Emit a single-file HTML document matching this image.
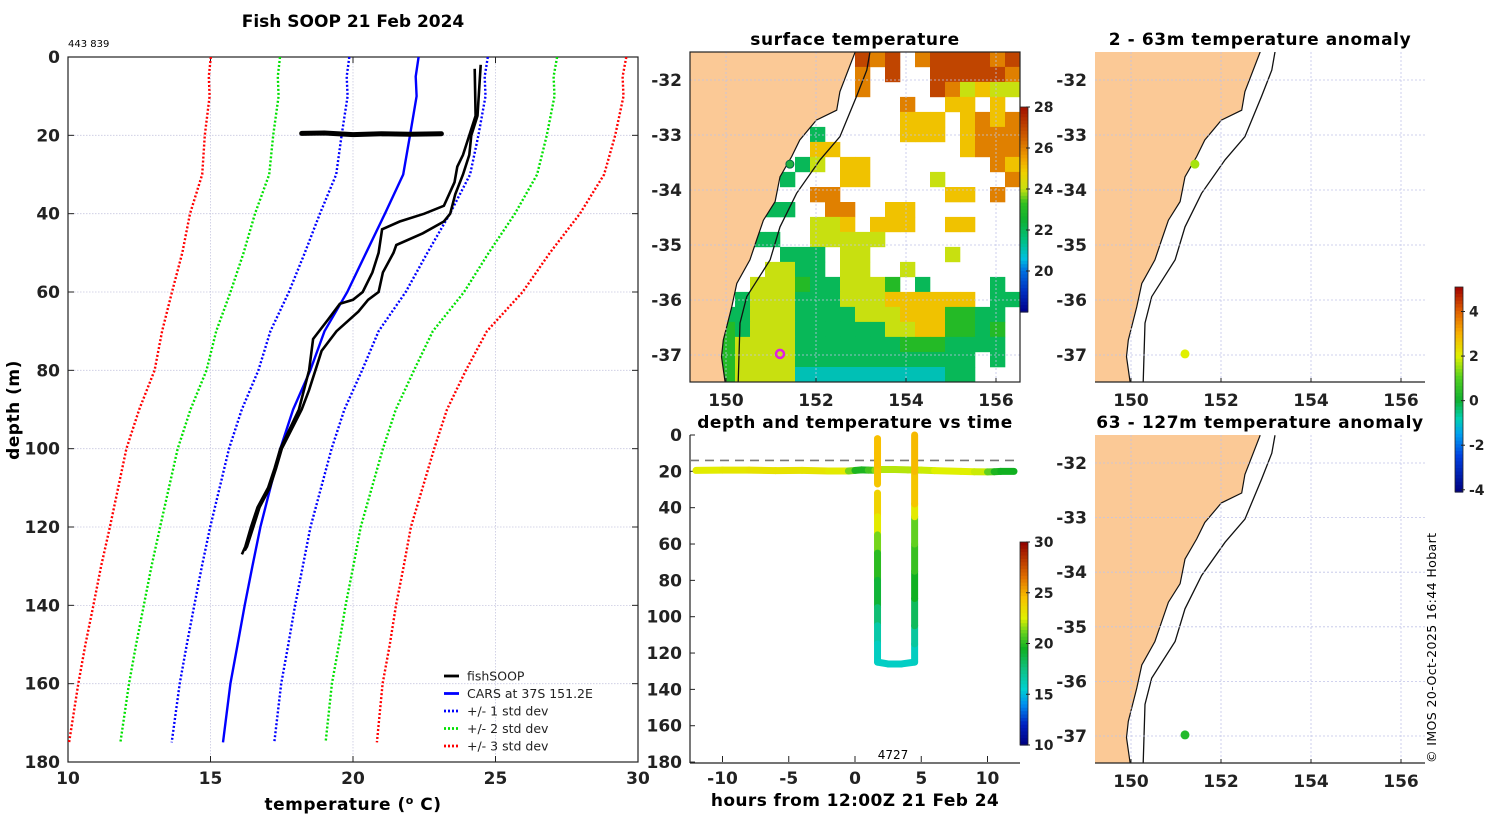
<!DOCTYPE html>
<html><head><meta charset="utf-8"><style>
html,body{margin:0;padding:0;background:#fff;}
svg{display:block;font-family:"DejaVu Sans","Liberation Sans",sans-serif;}
</style></head><body>
<svg id="fig" width="1500" height="820" viewBox="0 0 1500 820" xmlns="http://www.w3.org/2000/svg">
<defs>
<clipPath id="clipSst"><rect x="690" y="52" width="330" height="330"/></clipPath>
<clipPath id="clipA1"><rect x="1095" y="52" width="330" height="330"/></clipPath>
<clipPath id="clipA2"><rect x="1095" y="435" width="330" height="328"/></clipPath>
<clipPath id="clipProf"><rect x="68" y="57" width="570" height="705"/></clipPath>
</defs>
<text x="353" y="27" text-anchor="middle" font-size="17" font-weight="bold">Fish SOOP 21 Feb 2024</text>
<text x="68" y="47" font-size="10">443 839</text>
<text x="855" y="45" text-anchor="middle" font-size="17" font-weight="bold" letter-spacing="0.6">surface temperature</text>
<text x="1260" y="45" text-anchor="middle" font-size="17" font-weight="bold" letter-spacing="0.6">2 - 63m temperature anomaly</text>
<text x="855" y="428" text-anchor="middle" font-size="17" font-weight="bold" letter-spacing="0.5">depth and temperature vs time</text>
<text x="1260" y="428" text-anchor="middle" font-size="17" font-weight="bold" letter-spacing="0.6">63 - 127m temperature anomaly</text>
<text x="353" y="810" text-anchor="middle" font-size="17" font-weight="bold" letter-spacing="0.5">temperature (<tspan baseline-shift="super" font-size="11">o</tspan> C)</text>
<text transform="translate(19,410) rotate(-90)" text-anchor="middle" font-size="17" font-weight="bold" letter-spacing="0.5">depth (m)</text>
<text x="855" y="806" text-anchor="middle" font-size="17" font-weight="bold" letter-spacing="0.4">hours from 12:00Z 21 Feb 24</text>
<text x="893" y="759" text-anchor="middle" font-size="12">4727</text>
<text transform="translate(1436,763) rotate(-90)" font-size="12.5" letter-spacing="0.4">© IMOS 20-Oct-2025 16:44 Hobart</text>
<g id="g"></g>
</svg>
<script>
// ---------- Profile data ----------
var carsDepth = [0,5,10,20,30,40,50,60,70,80,90,100,120,130,140,150,160,175];
var carsMean  = [22.3,22.2,22.23,22.0,21.76,21.12,20.46,19.8,19.0,18.5,17.9,17.45,16.75,16.47,16.2,15.95,15.7,15.44];
var carsStd   = [2.43,2.42,2.42,2.4,2.35,2.28,2.15,2.05,1.9,1.82,1.8,1.8,1.76,1.77,1.77,1.78,1.78,1.8];
var castADepth = [3,15,25,28,32,38,40,42,44,50,55,60,62,63,67,72,80,90,100,105,110,115,120,125,127];
var castATemp  = [24.27,24.3,23.86,23.66,23.56,23.19,22.5,21.64,21.02,20.9,20.68,20.34,20.0,19.54,19.13,18.6,18.46,18.1,17.45,17.25,17.02,16.65,16.42,16.22,16.1];
var castBDepth = [2,15,20,25,30,35,40,42,45,48,50,55,60,62,65,70,75,80,85,90,100,105,110,115,120,125,126];
var castBTemp  = [24.48,24.37,24.15,24.08,23.86,23.59,23.41,23.19,22.45,21.52,21.42,21.05,20.9,20.53,20.19,19.42,18.9,18.68,18.46,18.2,17.5,17.3,17.08,16.72,16.5,16.28,16.2];
var towTempsProfile = [18.2,19.0,20.0,21.0,22.0,23.1];
var towDepthProfile = [19.5,19.4,19.8,19.6,19.7,19.6];
var profXTicks = [10,15,20,25,30];
var profYTicks = [0,20,40,60,80,100,120,140,160,180];

// ---------- Time panel data ----------
var towHours = [-12,-10,-8,-6,-4,-2,-0.5,0,0.5,1,1.5,2,3,4,5,6,7,8,9,10,10.5,11,12];
var towDepth = [19.5,19.3,19.3,19.6,19.5,19.8,19.8,19.5,19.2,19.3,19.4,19.0,19.0,19.2,19.3,19.6,19.8,20.0,20.2,20.3,20.2,20.0,20.0];
var towTemp  = [22.5,22.8,23.0,23.2,23.0,23.0,22.5,20.0,19.5,20.0,21.0,22.0,22.0,22.0,22.0,22.5,22.5,22.5,22.5,22.0,20.0,19.5,19.5];
var castHours = [1.7,1.7,1.7,1.7,null,1.7,1.7,1.7,1.7,1.7,1.7,1.7,1.7,1.7,2.5,3.5,4.5,4.5,4.5,4.5,4.5,4.5,4.5,4.5,4.5,4.5];
var castDepth = [2,10,20,27,null,32,45,55,65,80,95,105,115,125,126,126,125,115,105,90,75,60,45,38,20,0];
var castTemp  = [24.5,24.5,24.5,24.0,null,24.0,23.5,22.0,20.5,19.5,18.5,17.0,16.0,15.8,15.8,15.8,15.8,16.0,17.5,19.0,20.0,20.5,21.5,24.0,24.5,24.8];
var timeXTicks = [-10,-5,0,5,10];
var timeYTicks = [0,20,40,60,80,100,120,140,160,180];
var mixedLayerDepth = [14];

// ---------- Map data ----------
var lonTicks = [150,152,154,156];
var latTicks = [-32,-33,-34,-35,-36,-37];
var sstTicks = [20,22,24,26,28];
var tempTicks = [10,15,20,25,30];
var anomTicks = [-4,-2,0,2,4];
var coastLon = [152.87,152.53,152.46,152.01,151.64,151.46,151.2,151.09,150.83,150.68,150.53,150.24,150.13,149.94,149.9,149.98];
var coastLat = [-31.49,-32.21,-32.55,-32.73,-33.09,-33.39,-33.76,-34.21,-34.55,-34.91,-35.27,-35.7,-36.12,-36.73,-37.03,-37.49];
var isoLon = [153.2,153.13,152.9,152.53,152.09,151.57,151.2,150.98,150.46,150.31,150.27];
var isoLat = [-31.49,-31.82,-32.3,-33.03,-33.45,-34.06,-34.67,-35.27,-35.94,-36.42,-37.49];
// SST grid: '.'=no data, a..h = 20..27 degC
var sstRows = [
"...........hgh.ghhhhgh",
"...........g.h..hhhhhg",
"...........g....hgefee",
"..............g..ff.f.",
"..............fff.fgfg",
"........c.....fff.fggg",
"........ff........fggg",
".......ce.ff........gf",
"......c...ff....e....g",
"........gg.......ff.g.",
".....cc..gg..ff.......",
"........eef.fff..ff...",
"....cc..eeeee.........",
"......ccc.ee.....e....",
".....eecc.ee..e.......",
"....eeedcceeed.c....c.",
"...ceeeccceeeffffff.cc",
"..cceeecccceeefffddcc.",
"..dceeecccccceeffddcd.",
"..deeeecccccccdddcccc.",
"..deeeecccccccccccc.c.",
"..deeeebbbbbbbbbbcc..."
];
var sstGridLon0 = 149.2, sstGridLat0 = -31.49;
var obsLon = [151.42,151.2];
var obsLat = [-33.53,-36.98];
var anomTopLon = [151.42,151.2], anomTopLat = [-33.53,-36.98], anomTopVal = [1.6,2.0];
var anomBotLon = [151.2], anomBotLat = [-36.98], anomBotVal = [0.3];

// ---------- helpers ----------
var NS = "http://www.w3.org/2000/svg";
var root = document.getElementById('g');
function mk(tag, attrs, parent){ var e=document.createElementNS(NS,tag); for(var k in attrs) e.setAttribute(k,attrs[k]); (parent||root).appendChild(e); return e; }
function hex(c){return [parseInt(c.substr(1,2),16),parseInt(c.substr(3,2),16),parseInt(c.substr(5,2),16)];}
function cmap(stops,v){
  if(v<=stops[0][0]) return stops[0][1];
  for(var i=1;i<stops.length;i++){ if(v<=stops[i][0]){ var a=stops[i-1],b=stops[i],t=(v-a[0])/(b[0]-a[0]); var ca=hex(a[1]),cb=hex(b[1]); return 'rgb('+Math.round(ca[0]+(cb[0]-ca[0])*t)+','+Math.round(ca[1]+(cb[1]-ca[1])*t)+','+Math.round(ca[2]+(cb[2]-ca[2])*t)+')'; } }
  return stops[stops.length-1][1];
}
var sstStops=[[18,'#00008b'],[19,'#0030c0'],[20,'#0070e0'],[20.6,'#00c0e0'],[21.5,'#00c080'],[22.5,'#10b030'],[23.3,'#30c020'],[24,'#c8e010'],[24.8,'#f0d000'],[25.5,'#f0a000'],[26.5,'#d06000'],[28,'#a01000']];
var tStops=[[10,'#000080'],[12,'#0020c0'],[14,'#0090f0'],[15.5,'#00d0d0'],[17.5,'#10c080'],[19.5,'#10b020'],[21,'#60d020'],[22.5,'#e0f000'],[24.5,'#f8c000'],[26.5,'#e07000'],[30,'#900000']];
var aStops=[[-4.1,'#000080'],[-2.5,'#0040e0'],[-1.5,'#00a0f0'],[-0.8,'#00d0b0'],[0,'#10b030'],[1,'#50d020'],[2,'#e0f000'],[3,'#f8b000'],[4,'#e06000'],[5.1,'#a00000']];

// ---------- Profile panel ----------
function px(T){return 68+(T-10)*28.5;}
function py(d){return 57+d*3.9167;}
var pg = mk('g',{});  
profXTicks.forEach(function(t){
  if(t>10&&t<30){ var l=mk('line',{x1:px(t),x2:px(t),y1:57,y2:762,stroke:'#c8c8e0','stroke-width':0.8,'stroke-dasharray':'1.5,1.5'},pg);   }
  var tk=mk('line',{x1:px(t),x2:px(t),y1:762,y2:756,stroke:'#222'},pg);  
  var tk2=mk('line',{x1:px(t),x2:px(t),y1:57,y2:63,stroke:'#222'},pg);  
  var tx=mk('text',{x:px(t),y:784,'text-anchor':'middle','font-size':17,'font-weight':'bold',fill:'#222'},pg); tx.textContent=t;  
});
profYTicks.forEach(function(d){
  if(d>0&&d<180){ var l=mk('line',{x1:68,x2:638,y1:py(d),y2:py(d),stroke:'#c8c8e0','stroke-width':0.8,'stroke-dasharray':'1.5,1.5'},pg);   }
  var tk=mk('line',{x1:68,x2:74,y1:py(d),y2:py(d),stroke:'#222'},pg);  
  var tk2=mk('line',{x1:632,x2:638,y1:py(d),y2:py(d),stroke:'#222'},pg);  
  var tx=mk('text',{x:60,y:py(d)+6,'text-anchor':'end','font-size':17,'font-weight':'bold',fill:'#222'},pg); tx.textContent=d;  
});
var pbox=mk('rect',{x:68,y:57,width:570,height:705,fill:'none',stroke:'#222','stroke-width':1.2},pg);  
var pc = mk('g',{'clip-path':'url(#clipProf)'},pg);
function pathFrom(xs,ys){return xs.map(function(x,i){return (i?'L':'M')+x.toFixed(1)+','+ys[i].toFixed(1);}).join(' ');}
var stdCols={1:'#0000ff',2:'#00e000',3:'#ff0000'};
[1,2,3].forEach(function(k){
  [-1,1].forEach(function(s){
    var xs=carsMean.map(function(m,i){return px(m+s*k*carsStd[i]);});
    var ys=carsDepth.map(py);
    var p=mk('path',{d:pathFrom(xs,ys),fill:'none',stroke:stdCols[k],'stroke-width':2.4,'stroke-dasharray':'2,2'},pc);
     
  });
});
var cars=mk('path',{d:pathFrom(carsMean.map(px),carsDepth.map(py)),fill:'none',stroke:'#0000ff','stroke-width':2.4},pc);
 
var ca=mk('path',{d:pathFrom(castATemp.map(px),castADepth.map(py)),fill:'none',stroke:'#000','stroke-width':2.6},pc);
 
var cb=mk('path',{d:pathFrom(castBTemp.map(px),castBDepth.map(py)),fill:'none',stroke:'#000','stroke-width':2.6},pc);
 
var tw=mk('path',{d:pathFrom(towTempsProfile.map(px),towDepthProfile.map(py)),fill:'none',stroke:'#000','stroke-width':5,'stroke-linecap':'round'},pc);
 
// legend
var lg=mk('g',{},pg);  
var legItems=[['fishSOOP','#000',''],['CARS at 37S 151.2E','#0000ff',''],['+/- 1 std dev','#0000ff','2,2'],['+/- 2 std dev','#00e000','2,2'],['+/- 3 std dev','#ff0000','2,2']];
legItems.forEach(function(it,i){
  var y=676+i*17.5;
  var ln=mk('line',{x1:444,x2:459,y1:y,y2:y,stroke:it[1],'stroke-width':2.8,'stroke-dasharray':it[2]||'none'},lg);  
  var t=mk('text',{x:467,y:y+4.5,'font-size':12.5,fill:'#222'},lg); t.textContent=it[0];  
});

// ---------- Map panels ----------
function makeMap(X0,Y0,H,clipId,name){
  var g=mk('g',{});  
  var sy=(H===330)?55:54.6;
  var o={g:g,mx:function(lon){return X0+36+(lon-150)*45;},my:function(lat){return Y0+28+(-32-lat)*sy;},X0:X0,Y0:Y0,H:H};
  o.inner=mk('g',{'clip-path':'url(#'+clipId+')'},g);
  return o;
}
function drawBase(m){
  var inner=m.inner;
  var pts=[[149.0,-31.3],[coastLon[0],-31.3]]; coastLon.forEach(function(l,i){pts.push([l,coastLat[i]]);});
  pts.push([coastLon[coastLon.length-1],-37.8]); pts.push([149.0,-37.8]);
  var land=mk('polygon',{points:pts.map(function(p){return m.mx(p[0]).toFixed(1)+','+m.my(p[1]).toFixed(1);}).join(' '),fill:'#fbc996',stroke:'none'},inner);
   
  var cl=mk('path',{d:pathFrom(coastLon.map(m.mx),coastLat.map(m.my)),fill:'none',stroke:'#111','stroke-width':1.2},inner);
   
  var iso=mk('path',{d:pathFrom(isoLon.map(m.mx),isoLat.map(m.my)),fill:'none',stroke:'#111','stroke-width':1.3},inner);
   
}
function drawAxes(m,box){
  var g=m.g, X0=m.X0, Y0=m.Y0, H=m.H;
  lonTicks.forEach(function(l){
    var gl=mk('line',{x1:m.mx(l),x2:m.mx(l),y1:Y0,y2:Y0+H,stroke:'#c0c4e8','stroke-width':0.8,'stroke-dasharray':'2,2'},g);  
    var t=mk('text',{x:m.mx(l),y:Y0+H+24,'text-anchor':'middle','font-size':17,'font-weight':'bold',fill:'#222'},g); t.textContent=l;  
    var tk=mk('line',{x1:m.mx(l),x2:m.mx(l),y1:Y0+H,y2:Y0+H-4,stroke:'#222'},g);  
  });
  latTicks.forEach(function(l){
    var gl=mk('line',{x1:X0,x2:X0+330,y1:m.my(l),y2:m.my(l),stroke:'#c0c4e8','stroke-width':0.8,'stroke-dasharray':'2,2'},g);  
    var t=mk('text',{x:X0-8,y:m.my(l)+6,'text-anchor':'end','font-size':17,'font-weight':'bold',fill:'#222'},g); t.textContent=l;  
  });
  if(box){ var b=mk('rect',{x:X0,y:Y0,width:330,height:H,fill:'none',stroke:'#222','stroke-width':1.2},g);   }
  else { var b2=mk('line',{x1:X0,x2:X0+330,y1:Y0+H,y2:Y0+H,stroke:'#222','stroke-width':1.2},g);   }
}
// SST map
var sst=makeMap(690,52,330,'clipSst','sst-map-panel');
var cellLon=1/3, cellLat=15/55;
sstRows.forEach(function(row,r){
  for(var c=0;c<row.length;c++){
    var ch=row[c]; if(ch==='.') continue;
    var v=20+(ch.charCodeAt(0)-97);
    var lon=sstGridLon0+c*cellLon, lat=sstGridLat0-r*cellLat;
    var x=sst.mx(lon), y=sst.my(lat);
    var cell=mk('rect',{x:x.toFixed(1),y:y.toFixed(1),width:15.3,height:15.3,fill:cmap(sstStops,v)},sst.inner);
     
  }
});
drawBase(sst);
drawAxes(sst,true);
var od=mk('circle',{cx:sst.mx(obsLon[0]),cy:sst.my(obsLat[0]),r:4,fill:'#20b040',stroke:'#064',"stroke-width":1},sst.g);  
var ring=mk('circle',{cx:sst.mx(obsLon[1]),cy:sst.my(obsLat[1]),r:4,fill:'none',stroke:'#e020e0','stroke-width':2.5},sst.g);  

// colorbar helper
function colorbar(x,y0,y1,vTop,vBot,stops,ticks,name){
  var g=mk('g',{});  
  var n=60;
  for(var i=0;i<n;i++){
    var v=vTop-(vTop-vBot)*(i+0.5)/n;
    var r=mk('rect',{x:x,y:(y0+(y1-y0)*i/n).toFixed(2),width:8,height:((y1-y0)/n+0.6).toFixed(2),fill:cmap(stops,v)},g);
     
  }
  var bx=mk('rect',{x:x,y:y0,width:8,height:y1-y0,fill:'none',stroke:'#222','stroke-width':0.8},g);  
  ticks.forEach(function(t){
    var yy=y0+(vTop-t)/(vTop-vBot)*(y1-y0);
    var tk=mk('line',{x1:x+6,x2:x+10,y1:yy,y2:yy,stroke:'#222'},g);  
    var tt=mk('text',{x:x+14,y:yy+5,'font-size':14,'font-weight':'bold',fill:'#222'},g); tt.textContent=t;  
  });
}
colorbar(1020,107,312,28,18,sstStops,sstTicks,'sst-colorbar');

// anomaly maps
var a1=makeMap(1095,52,330,'clipA1','anomaly-2-63m-panel');
drawBase(a1); drawAxes(a1,false);
anomTopLon.forEach(function(l,i){
  var d=mk('circle',{cx:a1.mx(l),cy:a1.my(anomTopLat[i]),r:4.5,fill:cmap(aStops,anomTopVal[i])},a1.g);
   
});
var a2=makeMap(1095,435,328,'clipA2','anomaly-63-127m-panel');
drawBase(a2); drawAxes(a2,false);
anomBotLon.forEach(function(l,i){
  var d=mk('circle',{cx:a2.mx(l),cy:a2.my(anomBotLat[i]),r:4.5,fill:cmap(aStops,anomBotVal[i])},a2.g);
   
});
colorbar(1455,287,492,5.1,-4.1,aStops,[4,2,0,-2,-4],'anomaly-colorbar');

// ---------- Time panel ----------
function tx(h){return 855+h*13.25;}
function ty(d){return 435+d*1.817;}
var tg=mk('g',{});  
timeXTicks.forEach(function(t){
  var tk=mk('line',{x1:tx(t),x2:tx(t),y1:762,y2:756,stroke:'#222'},tg);  
  var l=mk('text',{x:tx(t),y:784,'text-anchor':'middle','font-size':17,'font-weight':'bold',fill:'#222'},tg); l.textContent=t;  
});
timeYTicks.forEach(function(d){
  var tk=mk('line',{x1:690,x2:695,y1:ty(d),y2:ty(d),stroke:'#222'},tg);  
  var l=mk('text',{x:682,y:ty(d)+6,'text-anchor':'end','font-size':17,'font-weight':'bold',fill:'#222'},tg); l.textContent=d;  
});
var ax1=mk('line',{x1:690,x2:690,y1:435,y2:763,stroke:'#222','stroke-width':1.2},tg);  
var ax2=mk('line',{x1:690,x2:1020,y1:763,y2:763,stroke:'#222','stroke-width':1.2},tg);  
var ml=mk('line',{x1:690,x2:1020,y1:ty(mixedLayerDepth[0]),y2:ty(mixedLayerDepth[0]),stroke:'#777','stroke-width':1.6,'stroke-dasharray':'9,6'},tg);  
function drawTrack(H,D,T,name){
  for(var i=0;i<H.length-1;i++){
    if(H[i]===null||H[i+1]===null) continue;
    var s=mk('line',{x1:tx(H[i]),y1:ty(D[i]),x2:tx(H[i+1]),y2:ty(D[i+1]),stroke:cmap(tStops,(T[i]+T[i+1])/2),'stroke-width':7,'stroke-linecap':'round'},tg);
     
  }
}
drawTrack(towHours,towDepth,towTemp,'tow-track-segment');
drawTrack(castHours,castDepth,castTemp,'cast-track-segment');
colorbar(1020,542,745,30,10,tStops,tempTicks,'temperature-colorbar');
</script>
</body></html>
